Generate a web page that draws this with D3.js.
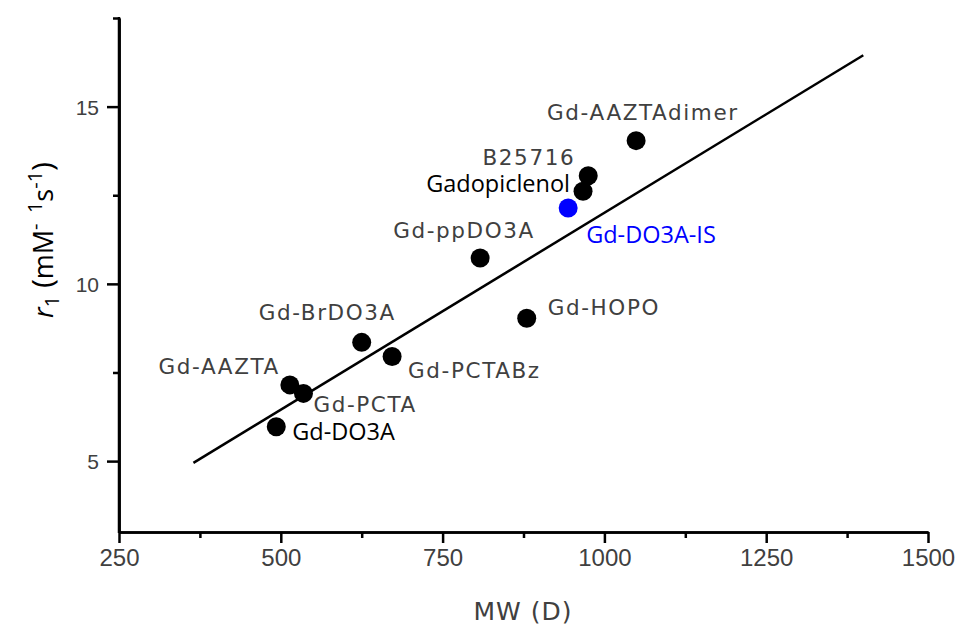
<!DOCTYPE html>
<html><head><meta charset="utf-8">
<script src="https://cdn.jsdelivr.net/npm/d3@7"></script>
<style>body{margin:0;background:#fff}svg{display:block}</style>
</head><body>
<svg id="c" width="956" height="626"></svg>
<script>
// ---- data ----
const compounds = ["Gd-DO3A","Gd-AAZTA","Gd-PCTA","Gd-BrDO3A","Gd-PCTABz","Gd-ppDO3A","Gd-HOPO","Gd-DO3A-IS","Gadopiclenol","B25716","Gd-AAZTAdimer"];
const mwValues = [493, 514, 535, 625, 672, 808, 880, 944, 967, 975, 1049];
const r1Values = [5.97, 7.15, 6.91, 8.35, 7.95, 10.73, 9.03, 12.14, 12.61, 13.05, 14.04];
const highlighted = ["Gd-DO3A-IS"];
const fitLineX = [365, 1400];
const fitLineY = [4.95, 16.45];
const xTickValues = [250, 500, 750, 1000, 1250, 1500];
const yTickValues = [5, 10, 15];

// ---- layout (label placement, styles) ----
const labelLayout = {
  "Gd-DO3A":      {dx: 16,  dy: 13,  anchor: "start", style: "b"},
  "Gd-AAZTA":     {dx: -10, dy: -11, anchor: "end",   style: "g"},
  "Gd-PCTA":      {dx: 10,  dy: 19,  anchor: "start", style: "g"},
  "Gd-BrDO3A":    {dx: -103,dy: -22, anchor: "start", style: "g"},
  "Gd-PCTABz":    {dx: 16,  dy: 21,  anchor: "start", style: "g"},
  "Gd-ppDO3A":    {dx: -87, dy: -20, anchor: "start", style: "g"},
  "Gd-HOPO":      {dx: 21,  dy: -3,  anchor: "start", style: "g"},
  "Gd-DO3A-IS":   {dx: 18,  dy: 35,  anchor: "start", style: "blue"},
  "Gadopiclenol": {dx: -13, dy: 1,   anchor: "end",   style: "b"},
  "B25716":       {dx: -13, dy: -11, anchor: "end",   style: "g"},
  "Gd-AAZTAdimer":{dx: -89, dy: -21, anchor: "start", style: "g"}
};

const svg = d3.select("#c");
const x = d3.scaleLinear().domain([250, 1500]).range([119, 928]);
const y = d3.scaleLinear().domain([3, 17.5]).range([532, 18]);

const gray = "#404040";

// axes
const xAxis = svg.append("g").attr("transform", "translate(0,532)")
  .call(d3.axisBottom(x).tickValues(xTickValues).tickSize(11).tickSizeOuter(0).tickPadding(6).tickFormat(d3.format("d")));
const xMinor = svg.append("g").attr("transform", "translate(0,532)")
  .call(d3.axisBottom(x).tickValues([375, 625, 875, 1125, 1375]).tickSize(6).tickSizeOuter(0).tickFormat(""));
const yAxis = svg.append("g").attr("transform", "translate(119,0)")
  .call(d3.axisLeft(y).tickValues(yTickValues).tickSize(12).tickSizeOuter(0).tickPadding(8).tickFormat(d3.format("d")));
const yMinor = svg.append("g").attr("transform", "translate(119,0)")
  .call(d3.axisLeft(y).tickValues([7.5, 12.5, 17.5]).tickSize(6).tickSizeOuter(0).tickFormat(""));

[xAxis, xMinor, yAxis, yMinor].forEach(g => {
  g.select(".domain").attr("stroke", "#000").attr("stroke-width", 2.5);
  g.selectAll(".tick line").attr("stroke", "#000").attr("stroke-width", 2.5);
  g.selectAll(".tick text").attr("fill", gray);
});
xAxis.selectAll(".tick text").attr("font-size", 24)
  .attr("font-family", "Liberation Sans Narrow, Arial Narrow, sans-serif");
yAxis.selectAll(".tick text").attr("font-size", 21).attr("dy", "0.36em")
  .attr("font-family", "Liberation Sans, Arial, sans-serif");

// extend y domain line to meet x axis at the corner
svg.append("line").attr("x1", 119).attr("x2", 119).attr("y1", 17).attr("y2", 533)
  .attr("stroke", "#000").attr("stroke-width", 2.5);

// fit line
svg.append("line")
  .attr("x1", x(fitLineX[0])).attr("y1", y(fitLineY[0]))
  .attr("x2", x(fitLineX[1])).attr("y2", y(fitLineY[1]))
  .attr("stroke", "#000").attr("stroke-width", 2.5);

const data = compounds.map((n, i) => ({name: n, mw: mwValues[i], r1: r1Values[i]}));

// points
svg.append("g").selectAll("circle").data(data).join("circle")
  .attr("cx", d => x(d.mw)).attr("cy", d => y(d.r1)).attr("r", 9.5)
  .attr("fill", d => highlighted.includes(d.name) ? "#0000ff" : "#000");

// labels
svg.append("g").selectAll("text").data(data).join("text")
  .attr("x", d => x(d.mw) + labelLayout[d.name].dx)
  .attr("y", d => y(d.r1) + labelLayout[d.name].dy)
  .attr("text-anchor", d => labelLayout[d.name].anchor)
  .attr("font-family", d => labelLayout[d.name].style === "g" ? "DejaVu Sans, Verdana, sans-serif" : "Open Sans, sans-serif")
  .attr("font-size", d => labelLayout[d.name].style === "g" ? 21.5 : 23.5)
  .attr("letter-spacing", d => labelLayout[d.name].style === "g" ? 1.6 : 0)
  .attr("fill", d => labelLayout[d.name].style === "g" ? gray : (labelLayout[d.name].style === "blue" ? "#0000ff" : "#000"))
  .text(d => d.name);

// x title
svg.append("text").attr("x", 523).attr("y", 620).attr("text-anchor", "middle")
  .attr("font-family", "DejaVu Sans, Verdana, sans-serif").attr("font-size", 25).attr("letter-spacing", 1)
  .attr("fill", gray).text("MW (D)");

// y title
const yt = svg.append("text").attr("transform", "translate(53,240) rotate(-90)")
  .attr("text-anchor", "middle").attr("font-family", "Open Sans, sans-serif").attr("font-size", 27).attr("fill", "#000");
yt.append("tspan").attr("font-style", "italic").text("r");
yt.append("tspan").attr("font-size", 20).attr("dy", 6).text("1");
yt.append("tspan").attr("font-size", 30).attr("dy", -6).text("\u00a0(");
yt.append("tspan").text("mM");
yt.append("tspan").attr("font-size", 20).attr("dy", -11).text("-\u00a0\u00a01");
yt.append("tspan").attr("dy", 11).text("s");
yt.append("tspan").attr("font-size", 20).attr("dy", -11).text("-1");
yt.append("tspan").attr("font-size", 30).attr("dy", 11).text(")");
</script>
</body></html>
